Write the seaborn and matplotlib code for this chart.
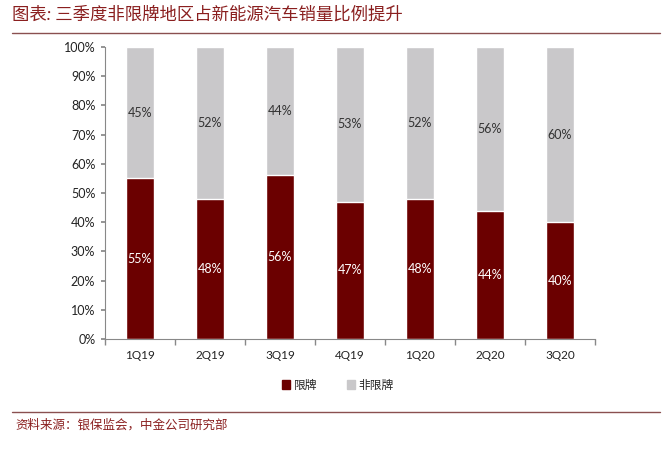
import matplotlib
matplotlib.use("Agg")
import matplotlib.pyplot as plt
import seaborn as sns
import pandas as pd
import numpy as np
from matplotlib.patches import Patch
from matplotlib.lines import Line2D

quarters = ["1Q19", "2Q19", "3Q19", "4Q19", "1Q20", "2Q20", "3Q20"]
restricted = [55, 48, 56, 47, 48, 44, 40]
unrestricted = [45, 52, 44, 53, 52, 56, 60]
yticks = [0, 10, 20, 30, 40, 50, 60, 70, 80, 90, 100]

sns.set_theme(style="white")
plt.rcParams['font.family'] = ['Lato', 'Noto Sans CJK SC', 'DejaVu Sans']

RED = "#6B0000"
GRAY = "#C9C8CA"
TITLE_C = "#8A1F1F"

df = pd.DataFrame({"q": quarters, "r": restricted, "u": unrestricted})
df["total"] = df["r"] + df["u"]

fig = plt.figure(figsize=(6.7, 4.55), dpi=100)
ax = fig.add_axes([105/670, 116/455, 490/670, 292/455])

sns.barplot(data=df, x="q", y="total", color=GRAY, width=0.4, ax=ax, saturation=1)
sns.barplot(data=df, x="q", y="r", color=RED, width=0.4, ax=ax, saturation=1)

for i, (r, u) in enumerate(zip(restricted, unrestricted)):
    ax.text(i, r / 2, f"{r}%", ha="center", va="center", color="white", fontsize=9)
    ax.text(i, r + u / 2, f"{u}%", ha="center", va="center", color="#333333", fontsize=9)

ax.set_xlim(-0.5, len(quarters) - 0.5)
ax.set_ylim(0, 100)
ax.set_yticks(yticks)
ax.set_yticklabels([f"{v}%" for v in yticks], fontsize=9, color="#222222")
ax.set_xticks(range(len(quarters)))
ax.set_xticklabels(quarters, fontsize=8.5, color="#222222")
ax.set_xticks(np.arange(-0.5, len(quarters), 1.0), minor=True)
ax.tick_params(axis="x", which="major", length=0, pad=8)
ax.tick_params(axis="x", which="minor", length=4, color="#888888", direction="out", bottom=True)
ax.tick_params(axis="y", length=3, color="#888888", direction="out", left=True, pad=4)
ax.set_xlabel("")
ax.set_ylabel("")
for s in ["top", "right"]:
    ax.spines[s].set_visible(False)
for s in ["left", "bottom"]:
    ax.spines[s].set_color("#888888")
    ax.spines[s].set_linewidth(0.8)

handles = [Patch(facecolor=RED, edgecolor=RED), Patch(facecolor=GRAY, edgecolor=GRAY)]
fig.legend(handles, ["限牌", "非限牌"], loc="center", bbox_to_anchor=(338/670, 1 - 385/455),
           ncol=2, frameon=False, fontsize=8.5, handlelength=0.7, handleheight=0.7,
           handletextpad=0.3, columnspacing=2.5)

fig.text(12/670, 1 - 14/455, "图表: 三季度非限牌地区占新能源汽车销量比例提升", fontsize=12.5,
         color=TITLE_C, ha="left", va="center", style="italic")
fig.add_artist(Line2D([12/670, 660/670], [1 - 33/455, 1 - 33/455], color="#8A5050", lw=1.0))
fig.add_artist(Line2D([12/670, 660/670], [1 - 412/455, 1 - 412/455], color="#8A5050", lw=1.0))
fig.text(15/670, 1 - 424/455, "资料来源：银保监会，中金公司研究部", fontsize=9,
         color=TITLE_C, ha="left", va="center", style="italic")

fig.savefig("out.png", dpi=100, facecolor="white")
